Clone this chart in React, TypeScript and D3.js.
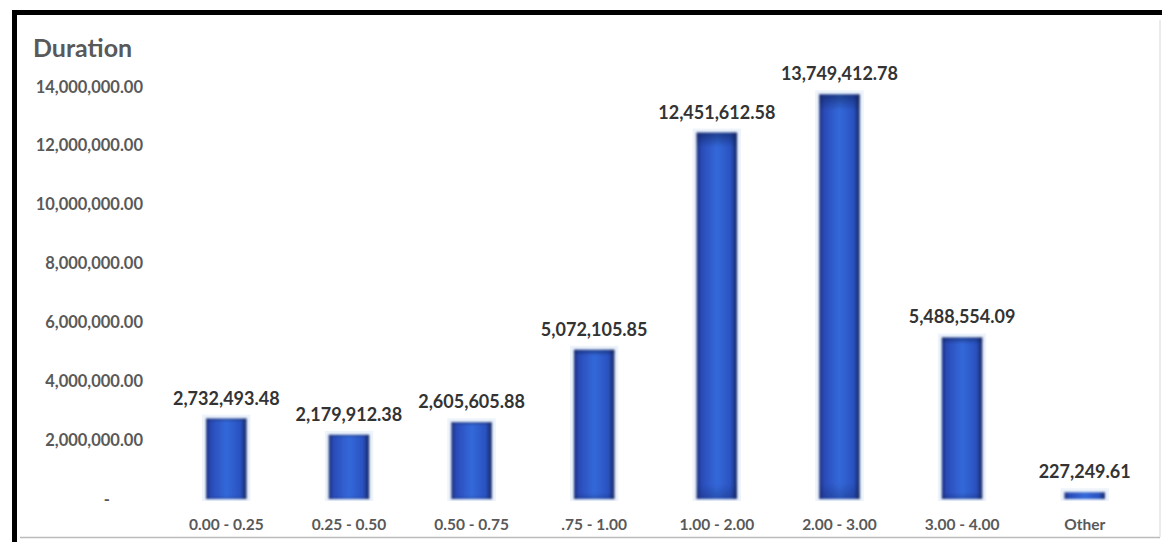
import React from "react";
import * as d3 from "d3";

const categories = ["0.00 - 0.25", "0.25 - 0.50", "0.50 - 0.75", ".75 - 1.00", "1.00 - 2.00", "2.00 - 3.00", "3.00 - 4.00", "Other"];
const values = [2732493.48, 2179912.38, 2605605.88, 5072105.85, 12451612.58, 13749412.78, 5488554.09, 227249.61];
const yTicks = [0, 2000000, 4000000, 6000000, 8000000, 10000000, 12000000, 14000000];
const title = "Duration";

const W = 1171;
const H = 542;
const FONT = "Lato, 'Open Sans', sans-serif";

export default function App() {
  const x = d3.scaleBand<string>().domain(categories).range([165, 1146]).paddingInner(0.67).paddingOuter(0.335);
  const y = d3.scaleLinear().domain([0, 14000000]).range([499, 87]);
  const fmt = d3.format(",.2f");

  return (
    <svg width={W} height={H} style={{ position: "absolute", left: 0, top: 0, background: "#fff" }}>
      <defs>
        <linearGradient id="barGrad" x1="0" x2="1" y1="0" y2="0">
          <stop offset="0" stopColor="#1a2f7a" />
          <stop offset="0.12" stopColor="#2a4bb8" />
          <stop offset="0.5" stopColor="#3469da" />
          <stop offset="0.85" stopColor="#2a52c0" />
          <stop offset="1" stopColor="#14255e" />
        </linearGradient>
        <linearGradient id="barV" x1="0" x2="0" y1="0" y2="1">
          <stop offset="0" stopColor="#0e1f55" stopOpacity="0.6" />
          <stop offset="0.04" stopColor="#0e1f55" stopOpacity="0" />
          <stop offset="0.96" stopColor="#0e1f55" stopOpacity="0" />
          <stop offset="1" stopColor="#0e1f55" stopOpacity="0.3" />
        </linearGradient>
        <filter id="blur1" x="-20%" y="-20%" width="140%" height="140%">
          <feGaussianBlur stdDeviation="0.8" />
        </filter>
      </defs>
      <rect x={0} y={0} width={W} height={H} fill="#fff" />
      {/* frame */}
      <line x1={12} x2={1162} y1={12.5} y2={12.5} stroke="#000" strokeWidth={5} />
      <line x1={14.5} x2={14.5} y1={10} y2={H} stroke="#000" strokeWidth={5} />
      <line x1={20} x2={1160} y1={537.5} y2={537.5} stroke="#bbb" strokeWidth={1.5} />
      <line x1={1160} x2={1160} y1={20} y2={537} stroke="#e4e4e4" strokeWidth={1.5} />

      <text x={33} y={57} fontFamily={FONT} fontWeight={700} fontSize={25} fill="#595959">{title}</text>

      {yTicks.map((t) => (
        <text key={t} x={t === 0 ? 110 : 143} y={y(t) + 5.5} textAnchor="end" fontFamily={FONT} fontWeight={700} fontSize={16.5} fill="#595959">
          {t === 0 ? "-" : fmt(t)}
        </text>
      ))}

      {categories.map((c, i) => {
        const bx = x(c)!;
        const bw = x.bandwidth();
        const top = y(values[i]);
        const h = y(0) - top;
        return (
          <g key={c}>
            <rect x={bx - 4} y={top - 4} width={bw + 8} height={h + 6} fill="#eef4fb" />
            <g filter="url(#blur1)">
              <rect x={bx} y={top} width={bw} height={Math.max(h, 3)} fill="url(#barGrad)" />
              <rect x={bx} y={top} width={bw} height={Math.max(h, 3)} fill="url(#barV)" />
            </g>
            <text x={bx + bw / 2} y={top - 14} textAnchor="middle" fontFamily={FONT} fontWeight={700} fontSize={18} fill="#333">
              {fmt(values[i])}
            </text>
            <text x={bx + bw / 2} y={529.5} textAnchor="middle" fontFamily={FONT} fontWeight={700} fontSize={15.5} fill="#595959">
              {c}
            </text>
          </g>
        );
      })}
    </svg>
  );
}
